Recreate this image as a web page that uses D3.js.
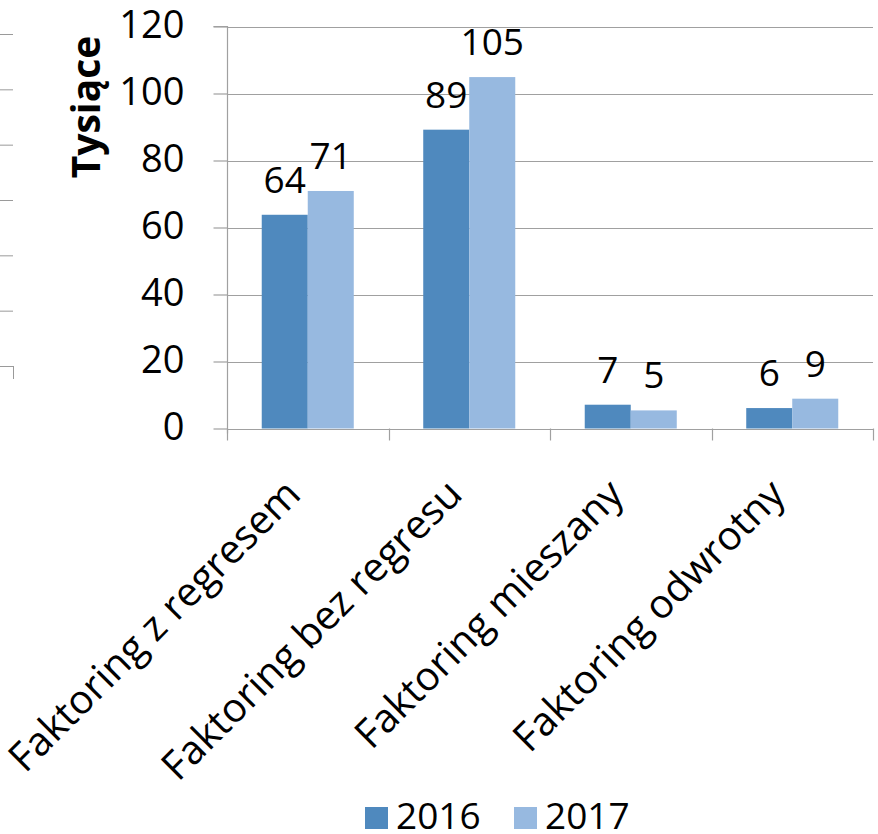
<!DOCTYPE html>
<html>
<head>
<meta charset="utf-8">
<script src="https://cdn.jsdelivr.net/npm/d3@7"></script>
<style>
  html, body { margin: 0; padding: 0; background: #fff; }
  svg { display: block; }
  text { font-family: "Open Sans", "Noto Sans", sans-serif; fill: #000; }
</style>
</head>
<body>
<svg id="chart" width="878" height="834"></svg>
<script>
const categories = ["Faktoring z regresem", "Faktoring bez regresu", "Faktoring mieszany", "Faktoring odwrotny"];
const seriesNames = ["2016", "2017"];
const values2016 = [63.8, 89.2, 7.1, 6.1];
const values2017 = [70.9, 104.9, 5.4, 8.9];
const yTicks = [0, 20, 40, 60, 80, 100, 120];
const yTitle = "Tysiące";
const colors = ["#4F89BE", "#97B9E0"];
// partial gridlines of a neighbouring chart cut off at the left edge
const leftGhostTicks = [0, 1, 2, 3, 4, 5, 6];

const svg = d3.select("#chart");
const plot = { left: 227, right: 873, top: 26.5, bottom: 428.5 };

const x = d3.scaleBand().domain(categories).range([plot.left, plot.right]).paddingInner(0).paddingOuter(0);
const xs = d3.scaleBand().domain(seriesNames).range([0, x.bandwidth()]).paddingInner(0).paddingOuter(0.755);
const y = d3.scaleLinear().domain([0, 120]).range([plot.bottom, plot.top]);
const color = d3.scaleOrdinal().domain(seriesNames).range(colors);

const data = categories.map((c, i) => ({ cat: c, vals: [values2016[i], values2017[i]] }));

// ghost axis on the left
const ghostY = d3.scaleLinear().domain([0, 6]).range([34, 366]);
svg.append("g").selectAll("line").data(leftGhostTicks).join("line")
  .attr("x1", 0).attr("x2", 13)
  .attr("y1", d => ghostY(d) + 0.5).attr("y2", d => ghostY(d) + 0.5)
  .attr("stroke", "#9a9a9a").attr("stroke-width", 1);
svg.append("line").attr("x1", 13.5).attr("x2", 13.5).attr("y1", ghostY(6)).attr("y2", ghostY(6) + 13)
  .attr("stroke", "#9a9a9a").attr("stroke-width", 1);

// gridlines
svg.append("g").selectAll("line").data(yTicks).join("line")
  .attr("x1", plot.left).attr("x2", plot.right)
  .attr("y1", d => Math.round(y(d)) + 0.5).attr("y2", d => Math.round(y(d)) + 0.5)
  .attr("stroke", "#a0a0a0").attr("stroke-width", 1.2);

// bars
const groups = svg.append("g").selectAll("g").data(data).join("g")
  .attr("transform", d => `translate(${x(d.cat)},0)`);
groups.selectAll("rect").data(d => d.vals.map((v, i) => ({ s: seriesNames[i], v })))
  .join("rect")
  .attr("x", d => xs(d.s))
  .attr("width", xs.bandwidth())
  .attr("y", d => y(d.v))
  .attr("height", d => y(0) - y(d.v))
  .attr("fill", d => color(d.s));
groups.selectAll("text").data(d => d.vals.map((v, i) => ({ s: seriesNames[i], v })))
  .join("text")
  .attr("x", d => xs(d.s) + xs.bandwidth() / 2)
  .attr("y", d => y(d.v) - 22)
  .attr("text-anchor", "middle")
  .attr("font-size", 37)
  .text(d => d3.format(".0f")(d.v));

// y axis
const yAxis = d3.axisLeft(y).tickValues(yTicks).tickSize(14).tickPadding(29).tickFormat(d3.format("d"));
const gy = svg.append("g").attr("transform", `translate(${plot.left + 0.5},0)`).call(yAxis);
gy.select(".domain").attr("stroke", "#a0a0a0").attr("stroke-width", 1.2).attr("d", `M-14,${plot.top}H0V${plot.bottom + 5}`);
gy.selectAll(".tick line").attr("stroke", "#a0a0a0").attr("stroke-width", 1.2);
gy.selectAll(".tick text").attr("font-size", 38).attr("font-family", "'Open Sans', sans-serif").attr("fill", "#000").attr("dy", "0.3em");

// x axis
const xTickPos = [plot.left].concat(categories.map(c => x(c) + x.bandwidth()));
svg.append("line").attr("x1", plot.left).attr("x2", plot.right)
  .attr("y1", Math.round(y(0)) + 0.5).attr("y2", Math.round(y(0)) + 0.5)
  .attr("stroke", "#a0a0a0").attr("stroke-width", 1.2);
svg.append("g").selectAll("line").data(xTickPos).join("line")
  .attr("x1", d => Math.round(d) + 0.5).attr("x2", d => Math.round(d) + 0.5)
  .attr("y1", y(0)).attr("y2", y(0) + 12)
  .attr("stroke", "#a0a0a0").attr("stroke-width", 1.2);

svg.append("g").selectAll("text").data(categories).join("text")
  .attr("transform", d => `translate(${x(d) + x.bandwidth() / 2 - 5},${y(0) + 68}) rotate(-45)`)
  .attr("text-anchor", "end")
  .attr("font-size", 40)
  .text(d => d);

// y title
svg.append("text")
  .attr("transform", `translate(100,${107}) rotate(-90)`)
  .attr("text-anchor", "middle")
  .attr("font-size", 39)
  .attr("font-weight", "bold")
  .text(yTitle);

// legend
const legend = svg.append("g").selectAll("g").data(seriesNames).join("g")
  .attr("transform", (d, i) => `translate(${365 + i * 149},807)`);
legend.append("rect").attr("width", 23).attr("height", 22).attr("fill", d => color(d));
legend.append("text").attr("x", 31).attr("y", 22).attr("font-size", 37).text(d => d);
</script>
</body>
</html>
